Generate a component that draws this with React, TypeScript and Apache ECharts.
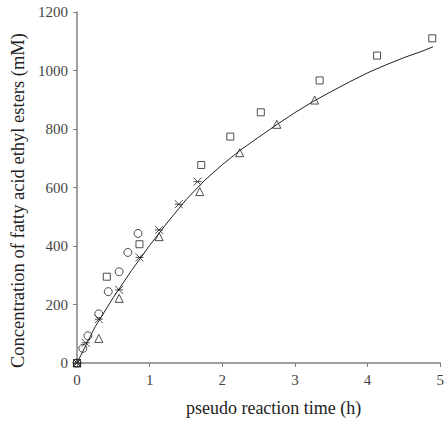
import React, { useEffect, useRef } from "react";
import * as echarts from "echarts";

const squareX = [0, 0.41, 0.86, 1.71, 2.11, 2.53, 3.34, 4.13, 4.89];
const squareY = [0, 295, 406, 677, 774, 857, 966, 1051, 1110];

const circleX = [0, 0.08, 0.15, 0.3, 0.43, 0.58, 0.7, 0.84];
const circleY = [0, 50, 93, 168, 244, 312, 378, 443];

const triangleX = [0, 0.3, 0.58, 1.13, 1.69, 2.24, 2.75, 3.27];
const triangleY = [0, 84, 221, 432, 586, 719, 816, 899];

const starX = [0, 0.12, 0.3, 0.58, 0.86, 1.13, 1.4, 1.66];
const starY = [0, 69, 150, 250, 361, 455, 543, 620];

const curveX = [
  0, 0.25, 0.5, 0.75, 1, 1.25, 1.5, 1.75, 2, 2.25, 2.5, 2.75, 3, 3.25, 3.5,
  3.75, 4, 4.25, 4.5, 4.75, 4.9,
];
const curveY = [
  0, 124, 224, 316, 402, 482, 558, 623, 678, 728, 772, 815, 856, 894, 928, 961,
  992, 1019, 1044, 1066, 1081,
];

const xTicks = [0, 1, 2, 3, 4, 5];
const yTicks = [0, 200, 400, 600, 800, 1000, 1200];

const zip = (xs: number[], ys: number[]) => xs.map((x, i) => [x, ys[i]]);

const FONT = "Liberation Serif";
const STAR = "path://M0,0L10,10M10,0L0,10M0,5L10,5";

export default function App() {
  const ref = useRef<HTMLDivElement>(null);
  useEffect(() => {
    if (!ref.current) return;
    const chart = echarts.init(ref.current, null, { renderer: "svg" });
    const markerStyle = { color: "transparent", borderColor: "#222", borderWidth: 1 };
    chart.setOption({
      animation: false,
      backgroundColor: "#fff",
      grid: { left: 77, right: 4, top: 12, bottom: 60 },
      xAxis: {
        type: "value",
        min: xTicks[0],
        max: xTicks[xTicks.length - 1],
        interval: 1,
        name: "pseudo reaction time (h)",
        nameLocation: "middle",
        nameGap: 36,
        nameTextStyle: {
          fontFamily: FONT,
          fontSize: 18,
          color: "#222",
          padding: [0, 0, 0, 30],
        },
        axisLine: { lineStyle: { color: "#808080", width: 1.5 } },
        axisTick: { length: 4, lineStyle: { color: "#808080" } },
        axisLabel: {
          fontFamily: FONT,
          fontSize: 15,
          color: "#444",
          margin: 9,
          formatter: (v: number) => String(v),
        },
        splitLine: { show: false },
      },
      yAxis: {
        type: "value",
        min: yTicks[0],
        max: yTicks[yTicks.length - 1],
        interval: 200,
        name: "Concentration of fatty acid ethyl esters (mM)",
        nameLocation: "middle",
        nameGap: 50,
        nameTextStyle: {
          fontFamily: FONT,
          fontSize: 18.5,
          color: "#222",
          padding: [0, 26, 0, 0],
        },
        axisLine: { show: true, lineStyle: { color: "#808080", width: 1.5 } },
        axisTick: { show: true, length: 4, lineStyle: { color: "#808080" } },
        axisLabel: {
          fontFamily: FONT,
          fontSize: 15,
          color: "#444",
          margin: 9,
          formatter: (v: number) => String(v),
        },
        splitLine: { show: false },
      },
      series: [
        {
          type: "line",
          data: zip(curveX, curveY),
          smooth: false,
          showSymbol: false,
          lineStyle: { color: "#222", width: 1 },
          z: 1,
        },
        {
          type: "scatter",
          data: zip(squareX, squareY),
          symbol: "rect",
          symbolSize: 7,
          itemStyle: markerStyle,
        },
        {
          type: "scatter",
          data: zip(circleX, circleY),
          symbol: "circle",
          symbolSize: 8,
          itemStyle: markerStyle,
        },
        {
          type: "scatter",
          data: zip(triangleX, triangleY),
          symbol: "triangle",
          symbolSize: 8,
          itemStyle: markerStyle,
        },
        {
          type: "scatter",
          data: zip(starX, starY),
          symbol: STAR,
          symbolSize: 8,
          itemStyle: markerStyle,
        },
      ],
    });
    return () => chart.dispose();
  }, []);
  return (
    <div
      ref={ref}
      style={{ position: "absolute", left: 0, top: 0, width: 447, height: 423 }}
    />
  );
}
